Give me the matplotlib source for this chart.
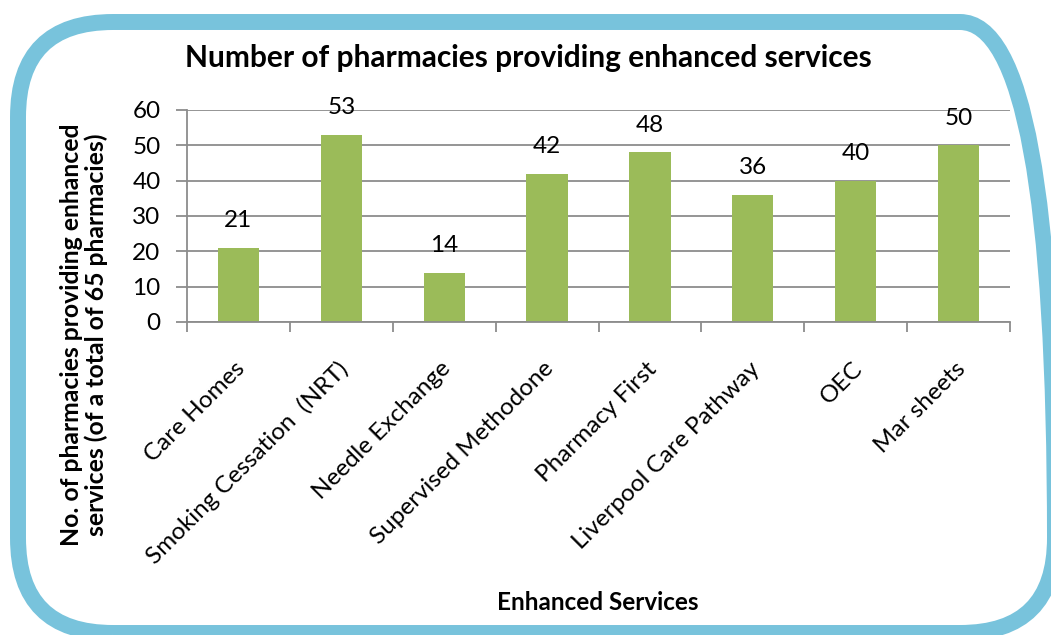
import matplotlib
matplotlib.use("Agg")
import matplotlib.pyplot as plt
from matplotlib.patches import FancyBboxPatch
from matplotlib.transforms import offset_copy
import numpy as np

plt.rcParams['font.family'] = ['Lato', 'DejaVu Sans']

categories = ["Care Homes", "Smoking Cessation  (NRT)", "Needle Exchange",
              "Supervised Methodone", "Pharmacy First", "Liverpool Care Pathway",
              "OEC", "Mar sheets"]
values = [21, 53, 14, 42, 48, 36, 40, 50]
y_ticks = [0, 10, 20, 30, 40, 50, 60]

title = "Number of pharmacies providing enhanced services"
y_label = "No. of pharmacies providing enhanced\nservices (of a total of 65 pharmacies)"
x_label = "Enhanced Services"

bar_color = "#9BBB59"
grid_color = "#8C8C8C"
frame_color = "#78C3DC"

W, H, DPI = 1051, 635, 100
fig = plt.figure(figsize=(W / DPI, H / DPI), dpi=DPI)
fig.patch.set_facecolor("white")

# rounded outer frame (inches)
frame = FancyBboxPatch((0.18, 0.02), 10.37, 6.11,
                       boxstyle="round,pad=0,rounding_size=0.95",
                       transform=fig.dpi_scale_trans,
                       facecolor="none", edgecolor=frame_color,
                       linewidth=11.5, clip_on=False)
fig.patches.append(frame)

ax = fig.add_axes([187 / W, 1 - 322 / H, (1010 - 187) / W, (322 - 110) / H])
x = np.arange(len(categories))
ax.bar(x, values, width=0.4, color=bar_color, zorder=3)

ax.set_xlim(-0.5, len(categories) - 0.5)
ax.set_ylim(0, 60)
ax.set_yticks(y_ticks)
ax.yaxis.grid(True, color=grid_color, linewidth=1.3, zorder=0)
ax.tick_params(axis='y', length=8, width=1.3, color=grid_color,
               labelsize=17.5, pad=11)

# category boundary ticks
ax.set_xticks(np.arange(len(categories) + 1) - 0.5)
ax.set_xticklabels([])
ax.tick_params(axis='x', length=7, width=1.3, color=grid_color)

label_tr = offset_copy(ax.get_xaxis_transform(), fig=fig,
                       x=-4, y=-36, units='dots')
for i, c in enumerate(categories):
    ax.text(i, 0, c, transform=label_tr,
            rotation=45, ha='right', va='top', rotation_mode='anchor',
            fontsize=17.5)

for s in ['top', 'right']:
    ax.spines[s].set_visible(False)
for s in ['left', 'bottom']:
    ax.spines[s].set_color(grid_color)
    ax.spines[s].set_linewidth(1.3)
    ax.spines[s].set_zorder(4)

for xi, v in zip(x, values):
    ax.text(xi, v + 7.6, str(v), ha='center', va='center', fontsize=17.5)

fig.text(528 / W, 1 - 58 / H, title, ha='center', va='center',
         fontsize=21.5, fontweight='bold')
fig.text(84 / W, 1 - 335 / H, y_label, ha='center', va='center',
         rotation=90, fontsize=17.8, fontweight='bold', linespacing=1.05)
fig.text(598 / W, 1 - 603 / H, x_label, ha='center', va='center',
         fontsize=17.5, fontweight='bold')

fig.savefig("out.png", dpi=DPI, facecolor="white")
